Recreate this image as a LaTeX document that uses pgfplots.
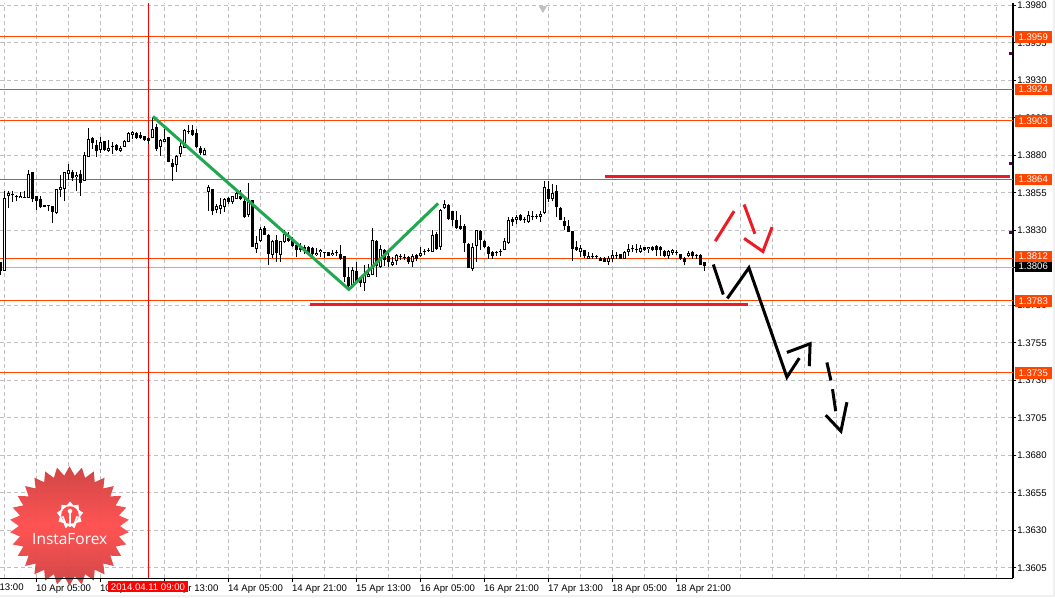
\documentclass[border=0pt]{standalone}
\usepackage{pgfplots}
\usepackage{pgfplotstable}
\usepackage{fontspec}
\setmainfont{Liberation Sans}
\newfontfamily\logofont{Open Sans}
\pgfplotsset{compat=1.18}
\usetikzlibrary{shapes.geometric}
\definecolor{lvl}{HTML}{FF4500}
\definecolor{grd}{HTML}{C0C0C0}
\definecolor{redm}{HTML}{ED1C24}
\definecolor{grn}{HTML}{1FA84F}
% x o h l c  (x = hourly bar number, prices)
\pgfplotstableread{
x o h l c
0 1.38033 1.38562 1.38033 1.38517
1 1.38529 1.38566 1.38451 1.38551
4 1.38517 1.38555 1.38517 1.38531
6 1.38515 1.38700 1.38515 1.38677
13 1.38415 1.38577 1.38411 1.38577
14 1.38571 1.38673 1.38522 1.38593
15 1.38577 1.38693 1.38495 1.38689
16 1.38677 1.38740 1.38638 1.38700
18 1.38655 1.38693 1.38566 1.38673
20 1.38633 1.38822 1.38629 1.38800
21 1.38791 1.38982 1.38791 1.38911
24 1.38837 1.38922 1.38815 1.38893
26 1.38831 1.38900 1.38826 1.38851
29 1.38833 1.38866 1.38822 1.38851
30 1.38857 1.38904 1.38855 1.38897
31 1.38891 1.38955 1.38889 1.38951
32 1.38937 1.38962 1.38911 1.38957
37 1.38915 1.39055 1.38915 1.38977
39 1.38855 1.38911 1.38795 1.38900
40 1.38889 1.38977 1.38889 1.38911
43 1.38735 1.38800 1.38689 1.38797
44 1.38809 1.38911 1.38789 1.38860
45 1.38851 1.38977 1.38851 1.38971
50 1.38806 1.38851 1.38800 1.38837
51 1.38557 1.38600 1.38433 1.38593
53 1.38435 1.38477 1.38415 1.38460
54 1.38446 1.38517 1.38411 1.38473
55 1.38455 1.38517 1.38422 1.38511
57 1.38493 1.38533 1.38477 1.38529
58 1.38513 1.38571 1.38511 1.38551
61 1.38400 1.38617 1.38393 1.38489
63 1.38178 1.38266 1.38149 1.38218
64 1.38229 1.38322 1.38222 1.38311
67 1.38137 1.38238 1.38115 1.38231
69 1.38135 1.38233 1.38089 1.38229
70 1.38222 1.38300 1.38215 1.38277
78 1.38135 1.38184 1.38133 1.38151
79 1.38155 1.38177 1.38122 1.38169
82 1.38137 1.38171 1.38133 1.38151
87 1.37933 1.38056 1.37927 1.38038
90 1.37949 1.38067 1.37896 1.38007
91 1.37993 1.38078 1.37989 1.38011
92 1.38000 1.38318 1.38000 1.38238
94 1.38056 1.38200 1.38051 1.38178
97 1.38073 1.38122 1.38060 1.38093
98 1.38096 1.38140 1.38073 1.38138
102 1.38091 1.38140 1.38056 1.38133
104 1.38127 1.38193 1.38122 1.38151
107 1.38158 1.38300 1.38158 1.38271
109 1.38189 1.38444 1.38171 1.38438
110 1.38449 1.38500 1.38444 1.38478
117 1.38045 1.38216 1.38029 1.38193
118 1.38198 1.38304 1.38089 1.38300
125 1.38169 1.38251 1.38167 1.38233
126 1.38216 1.38393 1.38211 1.38371
128 1.38371 1.38400 1.38340 1.38393
131 1.38356 1.38433 1.38353 1.38400
134 1.38389 1.38433 1.38356 1.38411
135 1.38416 1.38633 1.38411 1.38593
137 1.38507 1.38611 1.38496 1.38551
144 1.38156 1.38200 1.38122 1.38180
146 1.38113 1.38156 1.38109 1.38133
151 1.38091 1.38133 1.38067 1.38118
152 1.38111 1.38171 1.38089 1.38138
155 1.38109 1.38162 1.38107 1.38156
156 1.38156 1.38207 1.38133 1.38178
159 1.38156 1.38200 1.38153 1.38180
161 1.38176 1.38193 1.38151 1.38189
166 1.38129 1.38167 1.38111 1.38160
167 1.38151 1.38178 1.38138 1.38173
171 1.38127 1.38162 1.38122 1.38153
}\upbars
\pgfplotstableread{
x o h l c
-1 1.38093 1.38093 1.38006 1.38033
2 1.38540 1.38562 1.38493 1.38534
3 1.38529 1.38537 1.38495 1.38523
5 1.38520 1.38560 1.38515 1.38514
7 1.38689 1.38689 1.38489 1.38511
8 1.38533 1.38533 1.38438 1.38495
9 1.38511 1.38533 1.38451 1.38455
10 1.38471 1.38471 1.38455 1.38455
11 1.38473 1.38473 1.38429 1.38467
12 1.38460 1.38460 1.38351 1.38426
17 1.38693 1.38700 1.38633 1.38649
19 1.38677 1.38700 1.38529 1.38615
22 1.38917 1.38926 1.38844 1.38882
23 1.38873 1.38900 1.38789 1.38829
25 1.38897 1.38897 1.38833 1.38837
27 1.38863 1.38889 1.38811 1.38857
28 1.38871 1.38877 1.38833 1.38835
33 1.38953 1.38957 1.38911 1.38917
34 1.38935 1.38955 1.38909 1.38915
35 1.38931 1.38931 1.38895 1.38900
36 1.38915 1.38922 1.38877 1.38895
38 1.38993 1.39011 1.38833 1.38844
41 1.38922 1.38922 1.38755 1.38755
42 1.38751 1.38777 1.38629 1.38726
46 1.38963 1.39000 1.38944 1.38957
47 1.38973 1.39000 1.38933 1.38935
48 1.38953 1.38977 1.38851 1.38855
49 1.38851 1.38860 1.38800 1.38815
52 1.38577 1.38577 1.38404 1.38429
56 1.38517 1.38526 1.38477 1.38493
59 1.38533 1.38571 1.38500 1.38511
60 1.38498 1.38522 1.38384 1.38389
62 1.38500 1.38504 1.38189 1.38189
65 1.38318 1.38331 1.38271 1.38273
66 1.38273 1.38277 1.38069 1.38144
68 1.38238 1.38273 1.38089 1.38151
71 1.38251 1.38289 1.38222 1.38229
72 1.38240 1.38255 1.38189 1.38198
73 1.38200 1.38215 1.38126 1.38171
74 1.38184 1.38217 1.38155 1.38171
75 1.38189 1.38200 1.38144 1.38166
76 1.38189 1.38195 1.38144 1.38153
77 1.38182 1.38189 1.38133 1.38144
80 1.38156 1.38157 1.38115 1.38150
81 1.38157 1.38157 1.38129 1.38129
83 1.38158 1.38171 1.38129 1.38152
84 1.38140 1.38200 1.38100 1.38111
85 1.38133 1.38133 1.37955 1.37993
86 1.37993 1.38055 1.37922 1.37929
88 1.38033 1.38089 1.37940 1.37949
89 1.37989 1.37989 1.37922 1.37949
93 1.38233 1.38238 1.37993 1.38060
95 1.38173 1.38178 1.38060 1.38100
96 1.38131 1.38167 1.38056 1.38089
99 1.38130 1.38140 1.38104 1.38124
100 1.38125 1.38140 1.38104 1.38119
101 1.38120 1.38133 1.38078 1.38093
103 1.38138 1.38144 1.38096 1.38111
105 1.38165 1.38178 1.38136 1.38159
106 1.38172 1.38182 1.38156 1.38166
108 1.38278 1.38293 1.38173 1.38178
111 1.38471 1.38478 1.38371 1.38376
112 1.38429 1.38433 1.38327 1.38373
113 1.38373 1.38429 1.38311 1.38316
114 1.38329 1.38400 1.38304 1.38311
115 1.38333 1.38344 1.38156 1.38216
116 1.38211 1.38216 1.38051 1.38051
119 1.38296 1.38304 1.38171 1.38238
120 1.38233 1.38238 1.38185 1.38193
121 1.38193 1.38198 1.38111 1.38144
122 1.38158 1.38162 1.38111 1.38133
123 1.38156 1.38162 1.38127 1.38150
124 1.38161 1.38176 1.38133 1.38155
127 1.38378 1.38393 1.38333 1.38356
129 1.38400 1.38411 1.38362 1.38367
130 1.38378 1.38389 1.38353 1.38367
132 1.38396 1.38433 1.38367 1.38390
133 1.38396 1.38407 1.38378 1.38390
136 1.38578 1.38633 1.38489 1.38511
138 1.38560 1.38600 1.38389 1.38456
139 1.38451 1.38456 1.38367 1.38373
140 1.38360 1.38389 1.38300 1.38327
141 1.38333 1.38371 1.38289 1.38293
142 1.38296 1.38296 1.38096 1.38176
143 1.38193 1.38233 1.38162 1.38167
145 1.38173 1.38173 1.38118 1.38127
147 1.38130 1.38151 1.38111 1.38124
148 1.38130 1.38138 1.38109 1.38124
149 1.38118 1.38122 1.38096 1.38096
150 1.38116 1.38122 1.38089 1.38091
153 1.38134 1.38156 1.38111 1.38128
154 1.38140 1.38144 1.38109 1.38111
157 1.38181 1.38200 1.38156 1.38175
158 1.38174 1.38211 1.38151 1.38168
160 1.38189 1.38193 1.38162 1.38167
162 1.38193 1.38198 1.38162 1.38171
163 1.38198 1.38200 1.38133 1.38171
164 1.38193 1.38198 1.38133 1.38167
165 1.38160 1.38167 1.38122 1.38133
168 1.38159 1.38167 1.38138 1.38153
169 1.38140 1.38144 1.38104 1.38109
170 1.38118 1.38122 1.38067 1.38093
172 1.38156 1.38160 1.38111 1.38127
173 1.38136 1.38144 1.38109 1.38130
174 1.38138 1.38140 1.38069 1.38073
175 1.38093 1.38093 1.38033 1.38060
}\downbars
\begin{document}
\begin{tikzpicture}[x=1pt,y=1pt]
\fontsize{7.2pt}{9pt}\selectfont
\path[use as bounding box] (0,0) rectangle (791.25pt,447.75pt);
\fill[white] (0,0) rectangle (791.25pt,447.75pt);
\fill[black!6] (789.75pt,0) rectangle (791.25pt,447.75pt);
\fill[black!6] (0,0) rectangle (791.25pt,1.5pt);
\begin{axis}[
  at={(0pt,13.9pt)},anchor=south west,
  scale only axis,width=759.75pt,height=431.25pt,
  xmin=-1.125,xmax=252.125,ymin=1.3598,ymax=1.398133,
  axis x line*=bottom,axis y line*=right,
  axis line style={black,line width=1.1pt,-},
  xtick={8,24,40,56,72,88,104,120,136,152,168},
  xticklabels={10 Apr 05:00,10 Apr 21:00,11 Apr 13:00,14 Apr 05:00,14 Apr 21:00,15 Apr 13:00,16 Apr 05:00,16 Apr 21:00,17 Apr 13:00,18 Apr 05:00,18 Apr 21:00},
  minor xtick={0,16,32,48,64,80,96,112,128,144,160,176,184,192,200,208,216,224,232,240,248},
  ytick={1.3605,1.3630,1.3655,1.3680,1.3705,1.3730,1.3755,1.3780,1.3805,1.3830,1.3855,1.3880,1.3905,1.3930,1.3955,1.3980},
  scaled y ticks=false,
  /pgf/number format/fixed,
  /pgf/number format/fixed zerofill,
  /pgf/number format/precision=4,
  /pgf/number format/assume math mode=true,
  yticklabel pos=right,
  y tick label style={anchor=west,xshift=-0.5pt,inner sep=1pt,font=\fontsize{7.2pt}{9pt}\selectfont},
  x tick label style={anchor=north west,xshift=-3pt,yshift=0.5pt,inner xsep=2.5pt,font=\fontsize{7.2pt}{9pt}\selectfont},
  grid=both,
  major grid style={grd,line width=.75pt,dash pattern=on 3pt off 2.25pt},
  minor grid style={grd,line width=.75pt,dash pattern=on 3pt off 2.25pt},
  tick align=outside,major tick length=2.5pt,minor tick length=0pt,
  tick style={black,line width=.75pt},
  clip=true,
]
% levels
\addplot[black!30,line width=1pt,forget plot] coordinates {(-1.125,1.38055) (252.125,1.38055)};
\addplot[lvl,line width=.75pt,forget plot] coordinates {(-1.125,1.3959) (252.125,1.3959)};
\addplot[lvl,line width=.75pt,forget plot] coordinates {(-1.125,1.3924) (252.125,1.3924)};
\addplot[lvl,line width=.75pt,forget plot] coordinates {(-1.125,1.3903) (252.125,1.3903)};
\addplot[lvl,line width=.75pt,forget plot] coordinates {(-1.125,1.3864) (252.125,1.3864)};
\addplot[lvl,line width=.75pt,forget plot] coordinates {(-1.125,1.3811) (252.125,1.3811)};
\addplot[lvl,line width=.75pt,forget plot] coordinates {(-1.125,1.3783) (252.125,1.3783)};
\addplot[lvl,line width=.75pt,forget plot] coordinates {(-1.125,1.3735) (252.125,1.3735)};
\addplot[red,line width=.75pt,forget plot] coordinates {(36,1.3598) (36,1.398133)};
% wicks
\addplot[black,line width=.75pt,forget plot,quiver={u=0,v=\thisrow{h}-\thisrow{l}}] table[x=x,y=l] {\upbars};
\addplot[black,line width=.75pt,forget plot,quiver={u=0,v=\thisrow{h}-\thisrow{l}}] table[x=x,y=l] {\downbars};
% bodies
\addplot[black,line width=2.4pt,forget plot,quiver={u=0,v=\thisrow{o}-\thisrow{c}}] table[x=x,y=c] {\downbars};
\addplot[black,line width=2.4pt,forget plot,quiver={u=0,v=\thisrow{c}-\thisrow{o}}] table[x=x,y=o] {\upbars};
\addplot[white,line width=.85pt,forget plot,quiver={u=0,v=\thisrow{c}-\thisrow{o}-0.000133}] table[x=x,y expr={\thisrow{o}+0.0000667}] {\upbars};
% drawn analysis lines
\addplot[redm,line width=2.25pt] coordinates {(150.1,1.3866) (251.4,1.3866)};
\addplot[redm,line width=2.25pt] coordinates {(76.4,1.37807) (185.9,1.37807)};
\addplot[grn,line width=2.25pt] coordinates {(37.1,1.3906) (86.1,1.37907) (108.4,1.3848)};
\addplot[black,line width=2.25pt] coordinates {(177.2,1.38073) (179.7,1.37873)};
\addplot[black,line width=2.25pt] coordinates {(180.7,1.37847) (186.1,1.38051) (195.6,1.37322) (198.7,1.37449)};
\addplot[black,line width=2.25pt] coordinates {(195.6,1.37487) (201.4,1.37545) (201.2,1.37395)};
\addplot[black,line width=2.25pt] coordinates {(205.6,1.3742) (206.6,1.3730)};
\addplot[black,line width=2.25pt] coordinates {(207,1.37242) (207.8,1.37095)};
\addplot[black,line width=2.25pt] coordinates {(205.3,1.37069) (209.1,1.36962) (210.6,1.37155)};
\addplot[redm,line width=2.25pt] coordinates {(177.7,1.38229) (182.4,1.38429)};
\addplot[redm,line width=2.25pt] coordinates {(184.9,1.38473) (187.6,1.38278)};
\addplot[redm,line width=2.25pt] coordinates {(184.9,1.38247) (189.6,1.3816) (191.9,1.38322)};
% small marks
\addplot[only marks,mark=triangle*,mark size=3pt,mark options={rotate=180,fill=black!25,draw=black!25}] coordinates {(134.6,1.3978)};
\addplot[only marks,mark=square*,mark size=.5pt,color=violet!70!black] coordinates {(251.4,1.39482) (251.4,1.38747) (251.4,1.38289)};
\coordinate (pa) at (axis cs:252.125,1.3959);
\coordinate (pb) at (axis cs:252.125,1.3924);
\coordinate (pc) at (axis cs:252.125,1.3903);
\coordinate (pd) at (axis cs:252.125,1.3864);
\coordinate (pe) at (axis cs:252.125,1.3812);
\coordinate (pf) at (axis cs:252.125,1.3806);
\coordinate (pg) at (axis cs:252.125,1.3783);
\coordinate (ph) at (axis cs:252.125,1.3735);
\end{axis}
\tikzset{pbox/.style={anchor=west,fill=lvl,text=white,inner sep=0pt,minimum width=27.5pt,minimum height=8.6pt,xshift=1.2pt,align=center,font=\fontsize{7.2pt}{9pt}\selectfont}}
\node[pbox,fill=black] at (pf) {1.3806};
\node[pbox,yshift=.8pt] at (pe) {1.3812};
\node[pbox] at (pa) {1.3959};
\node[pbox] at (pb) {1.3924};
\node[pbox] at (pc) {1.3903};
\node[pbox] at (pd) {1.3864};
\node[pbox] at (pg) {1.3783};
\node[pbox] at (ph) {1.3735};
% cursor date box and clipped first label
\node[anchor=west,inner sep=0pt,font=\fontsize{7.2pt}{9pt}\selectfont] at (-0.5pt,7.7pt) {13:00};
\node[fill=red,text=white,inner sep=0pt,minimum width=60pt,minimum height=8.4pt,font=\fontsize{7.2pt}{9pt}\selectfont] at (111pt,7.6pt) {2014.04.11 09:00};
% logo
\node[star,star points=30,star point ratio=1.18,minimum size=89.5pt,inner sep=0pt,shape border rotate=0,
  opacity=.96,draw=none,top color=black!25!red!75!white,bottom color=black!25!red!75!white,middle color=red!70!white] at (52.1pt,53.25pt) {};
\draw[black,line width=1.1pt] (0,13.9pt) -- (100pt,13.9pt);
\node[star,star points=9,star point ratio=1.3,minimum size=20pt,inner sep=0pt,fill=white] at (52.5pt,61.5pt) {};
\fill[red!70!white] (52.5pt,61.5pt) circle (6.6pt);
\fill[white] (52.5pt,64.5pt) circle (1.7pt);
\draw[white,line width=1.5pt] (52.5pt,63pt) -- (52.5pt,52.5pt);
\draw[white,line width=1.3pt] (47pt,60.5pt) .. controls (47.5pt,58pt) and (49pt,57.5pt) .. (49.5pt,52pt);
\draw[white,line width=1.3pt] (58pt,60.5pt) .. controls (57.5pt,58pt) and (56pt,57.5pt) .. (55.5pt,52pt);
\node[text=white,inner sep=0pt,font=\logofont\fontsize{11.6pt}{12pt}\selectfont] at (52.3pt,43.2pt) {InstaForex};
\end{tikzpicture}
\end{document}
